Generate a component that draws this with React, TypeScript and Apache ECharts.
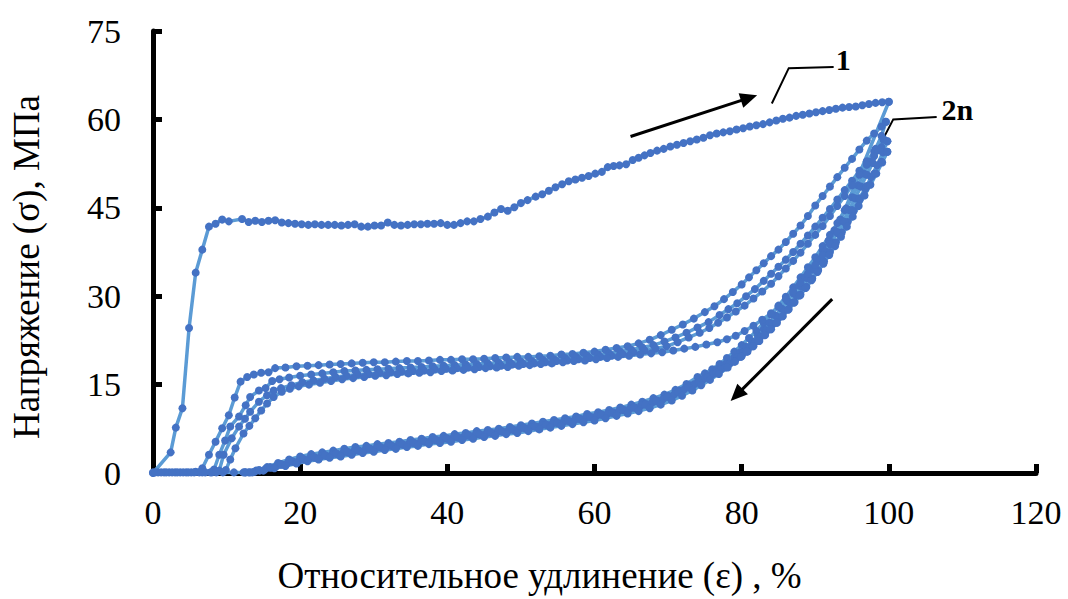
import React, { useEffect, useRef } from "react";
import * as echarts from "echarts";

// Axis settings
const X_MIN = 0, X_MAX = 120, X_STEP = 20;
const Y_MIN = 0, Y_MAX = 75, Y_STEP = 15;
const X_TITLE = "Относительное удлинение (ε) , %";
const Y_TITLE = "Напряжение (σ), МПа";

// Curve 1: first loading [strain %, stress MPa]
const loading1: number[][] = [
  [0,0],[2.4,3.5],[3.1,7.7],[4.0,11.0],[4.9,24.6],[5.8,34.0],[6.7,37.9],[7.6,41.8],[8.5,42.3],[9.4,43.0],
  [10.3,42.7],[12.1,43.1],[13.0,42.6],[13.9,42.8],[14.8,42.6],[15.7,42.8],[16.6,42.9],[17.5,42.5],[18.4,42.4],
  [19.3,42.3],[20.2,42.2],[21.1,42.1],[22.0,42.2],[22.9,42.1],[23.8,42.1],[24.7,42.1],[25.6,42.0],[26.5,42.1],
  [27.4,42.2],[28.3,41.8],[29.2,41.8],[30.1,42.0],[31.0,42.0],[31.9,42.5],[32.8,42.1],[33.7,42.0],[34.6,42.1],
  [35.5,42.2],[36.4,42.2],[37.3,42.3],[38.2,42.3],[39.1,42.4],[40.0,42.1],[40.9,42.1],[41.8,42.4],[42.7,42.7],
  [43.6,42.7],[44.5,43.1],[45.5,43.5],[46.4,44.2],[47.3,44.8],[48.2,44.5],[49.1,45.1],[50.0,45.8],[50.9,46.3],
  [52.0,46.9],[52.9,47.3],[53.8,47.9],[54.7,48.5],[55.6,49.0],[56.5,49.5],[57.4,49.8],[58.3,50.1],[59.2,50.4],
  [60.1,50.8],[61.0,51.1],[61.8,51.9],[62.6,52.1],[63.4,52.2],[64.3,52.4],[65.2,53.1],[66.0,53.5],[66.8,53.9],
  [67.6,54.3],[68.5,54.7],[69.4,55.0],[70.3,55.4],[71.2,55.7],[72.1,56.0],[73.0,56.3],[73.9,56.6],[74.8,56.9],
  [75.7,57.3],[76.6,57.6],[77.5,57.8],[78.4,58.0],[79.3,58.3],[80.2,58.5],[81.1,58.8],[82.0,59.0],[82.9,59.2],
  [83.8,59.5],[84.7,59.8],[85.6,60.1],[86.5,60.3],[87.4,60.6],[88.3,60.8],[89.2,61.0],[90.1,61.2],[91.0,61.4],
  [91.9,61.6],[92.8,61.8],[93.7,62.0],[94.6,62.1],[95.5,62.2],[96.4,62.4],[97.3,62.6],[98.2,62.8],[99.1,62.9],
  [100,63.0]
];

// Curve 1: first unloading
const unloading1: number[][] = [
  [100,63.0],[94.0,44.6],[93.0,42.4],[92.0,40.4],[91.0,38.5],[90.0,36.6],[89.0,34.9],[88.0,33.2],[87.0,31.5],
  [86.0,29.9],[85.0,28.4],[84.0,26.9],[83.0,25.5],[82.0,24.1],[81.0,22.9],[80.0,21.7],[79.0,20.6],[78.0,19.5],
  [77.0,18.5],[76.0,17.6],[75.0,16.9],[74.0,16.3],[72.5,15.1],[71.0,14.1],[69.5,13.3],[68.0,12.7],[66.5,12.1],
  [65.0,11.6],[63.5,11.1],[62.0,10.7],[60.5,10.3],[59.0,10.0],[57.5,9.6],[56.0,9.3],[54.5,9.0],[53.0,8.7],
  [51.5,8.4],[50.0,8.1],[48.5,7.8],[47.0,7.5],[45.5,7.3],[44.0,7.1],[42.5,6.8],[41.0,6.6],[39.5,6.3],[38.0,6.1],
  [36.5,5.8],[35.0,5.6],[33.5,5.3],[32.0,5.1],[30.5,4.9],[29.0,4.6],[27.5,4.4],[26.0,4.1],[24.5,3.8],[23.0,3.5],
  [21.5,3.2],[20.0,2.8],[18.5,2.3],[17.0,1.7],[15.5,1.0],[14.0,0.4],[12.5,0.1],[11.0,0.1],[9.5,0.1],[8.0,0.1]
];

// Cycle 2 loading
const loading2: number[][] = [
  [0,0.1],[1.5,0.1],[3,0.1],[4.5,0.1],[5.8,0.2],[6.7,0.8],[7.6,3.1],[8.5,5.3],[9.4,7.6],[10.3,9.8],[11.1,12.8],
  [11.9,15.5],[12.8,16.3],[13.7,16.7],[14.7,17.0],[15.7,17.1],[16.6,17.8],[18.0,17.9],[19.5,18.1],[21.0,18.2],
  [22.5,18.3],[24.0,18.4],[25.5,18.5],[27.0,18.6],[28.5,18.7],[30.0,18.8],[31.5,18.8],[33.0,18.9],[34.5,19.0],
  [36.0,19.0],[37.5,19.1],[39.0,19.2],[40.5,19.2],[42.0,19.3],[43.5,19.3],[45.0,19.4],[46.5,19.5],[48.0,19.6],
  [49.5,19.7],[51.0,19.7],[52.5,19.8],[54.0,19.9],[55.5,20.1],[57.0,20.2],[58.5,20.4],[60.0,20.6],[61.5,20.9],
  [63.0,21.2],[64.5,21.5],[66.0,22.0],[67.5,22.6],[69.0,23.4],[70.5,24.3],[72.0,25.2],[73.5,26.2],[75.0,27.3],
  [76.3,28.3],[77.6,29.5],[78.8,30.7],[80.0,32.0],[81.0,33.2],[82.0,34.4],[83.0,35.6],[84.0,36.8],[85.0,37.9],
  [86.0,39.2],[87.0,40.6],[88.0,42.0],[89.0,43.6],[90.0,45.4],[91.0,47.0],[92.0,48.6],[93.0,50.2],[94.0,51.8],
  [95.0,53.3],[96.0,54.9],[97.0,56.4],[98.0,57.6],[99.0,58.8],[99.6,59.6]
];

// Cycle 2 unloading
const unloading2: number[][] = [
  [99.6,59.6],[99.0,57.2],[98.2,55.0],[97.4,52.8],[96.6,50.8],[95.8,48.8],[95.0,46.8],[94.2,44.9],[93.4,43.0],
  [92.6,41.2],[91.8,39.4],[91.0,37.8],[90.2,36.2],[89.4,34.7],[88.6,33.2],[87.8,31.8],[87.0,30.5],[86.2,29.2],
  [85.4,27.9],[84.6,26.7],[83.8,25.5],[83.0,24.4],[82.2,23.3],[81.4,22.3],[80.6,21.4],[79.8,20.5],[79.0,19.6],
  [77.8,18.5],[76.6,17.5],[75.4,16.6],[74.2,15.7],[73.0,14.9],[71.5,14.0],[70.0,13.1],[68.5,12.3],[67.0,11.7],
  [65.5,11.1],[64.0,10.7],[62.5,10.3],[61.0,9.9],[59.5,9.5],[58.0,9.2],[56.5,8.8],[55.0,8.5],[53.5,8.2],
  [52.0,7.9],[50.5,7.6],[49.0,7.3],[47.5,7.0],[46.0,6.8],[44.5,6.5],[43.0,6.3],[41.5,6.0],[40.0,5.8],[38.5,5.6],
  [37.0,5.3],[35.5,5.1],[34.0,4.8],[32.5,4.6],[31.0,4.3],[29.5,4.1],[28.0,3.8],[26.5,3.5],[25.0,3.2],[23.5,2.9],
  [22.0,2.6],[20.5,2.3],[19.0,1.9],[17.5,1.4],[16.0,0.9],[14.5,0.4],[13.0,0.1]
];

// Cycle 3 loading
const loading3: number[][] = [
  [0.7,0.1],[2.2,0.1],[3.7,0.1],[5.2,0.1],[6.7,0.1],[8.3,0.6],[9.0,3.1],[9.8,5.5],[10.5,7.9],[11.7,9.6],
  [12.6,11.5],[13.2,12.9],[14.4,14.0],[15.3,14.4],[16.2,15.6],[17.2,15.9],[18.5,16.2],[20.0,16.5],[21.5,16.7],
  [23.0,16.9],[24.5,17.1],[26.0,17.3],[27.5,17.4],[29.0,17.5],[30.5,17.6],[32.0,17.7],[33.5,17.8],[35.0,17.9],
  [36.5,18.0],[38.0,18.1],[39.5,18.2],[41.0,18.3],[42.5,18.4],[44.0,18.5],[45.5,18.6],[47.0,18.7],[48.5,18.8],
  [50.0,18.9],[51.5,19.0],[53.0,19.2],[54.5,19.3],[56.0,19.5],[57.5,19.7],[59.0,19.9],[60.5,20.1],[62.0,20.3],
  [63.5,20.6],[65.0,20.9],[66.5,21.3],[68.0,21.7],[69.5,22.3],[71.0,23.0],[72.5,23.8],[74.0,24.7],[75.5,25.6],
  [77.0,26.8],[78.2,27.8],[79.4,28.8],[80.6,30.0],[81.8,31.2],[83.0,32.6],[84.0,33.8],[85.0,35.0],[86.0,36.2],
  [87.0,37.5],[88.0,38.9],[89.0,40.3],[90.0,41.8],[91.0,43.3],[92.0,44.8],[93.0,46.4],[94.0,48.0],[95.0,49.6],
  [96.0,51.3],[97.0,52.9],[98.0,54.5],[99.3,56.6]
];

// Cycle 3 unloading
const unloading3: number[][] = [
  [99.3,56.6],[98.6,54.8],[97.8,52.6],[97.0,50.6],[96.2,48.6],[95.4,46.6],[94.6,44.6],[93.8,42.7],[93.0,40.9],
  [92.2,39.2],[91.4,37.6],[90.6,36.0],[89.8,34.5],[89.0,33.0],[88.2,31.6],[87.4,30.2],[86.6,28.9],[85.8,27.6],
  [85.0,26.4],[84.2,25.3],[83.4,24.2],[82.6,23.2],[81.8,22.2],[81.0,21.3],[80.2,20.4],[79.4,19.6],[78.4,18.6],
  [77.2,17.6],[76.0,16.7],[74.8,15.9],[73.6,15.1],[72.2,14.2],[70.8,13.3],[69.3,12.5],[67.8,11.9],[66.3,11.4],
  [64.8,10.9],[63.3,10.5],[61.8,10.1],[60.3,9.7],[58.8,9.4],[57.3,9.0],[55.8,8.7],[54.3,8.4],[52.8,8.1],
  [51.3,7.8],[49.8,7.5],[48.3,7.2],[46.8,7.0],[45.3,6.7],[43.8,6.5],[42.3,6.2],[40.8,6.0],[39.3,5.7],[37.8,5.5],
  [36.3,5.2],[34.8,5.0],[33.3,4.7],[31.8,4.5],[30.3,4.2],[28.8,3.9],[27.3,3.7],[25.8,3.4],[24.3,3.1],[22.8,2.8],
  [21.3,2.5],[19.8,2.1],[18.3,1.7],[16.8,1.2],[15.3,0.7],[13.8,0.2],[12.6,0.1]
];

// Cycle 4 loading
const loading4: number[][] = [
  [0.3,0.1],[1.8,0.1],[3.3,0.1],[4.8,0.1],[6.3,0.1],[7.8,0.1],[9.0,0.4],[9.6,3.1],[10.7,5.9],[11.7,7.9],
  [12.5,9.2],[13.2,10.4],[14.4,12.1],[15.5,13.2],[16.4,14.0],[17.4,14.4],[18.8,14.9],[20.3,15.4],[21.8,15.7],
  [23.3,16.0],[24.8,16.3],[26.3,16.5],[27.8,16.7],[29.3,16.8],[30.8,17.0],[32.3,17.1],[33.8,17.2],[35.3,17.3],
  [36.8,17.4],[38.3,17.6],[39.8,17.7],[41.3,17.8],[42.8,17.9],[44.3,18.0],[45.8,18.1],[47.3,18.2],[48.8,18.4],
  [50.3,18.5],[51.8,18.6],[53.3,18.8],[54.8,19.0],[56.3,19.1],[57.8,19.3],[59.3,19.5],[60.8,19.7],[62.3,19.9],
  [63.8,20.2],[65.3,20.5],[66.8,20.8],[68.3,21.1],[69.8,21.5],[71.3,22.2],[72.8,23.0],[74.3,23.8],[75.6,24.6],
  [76.8,25.5],[78.0,26.4],[79.2,27.4],[80.4,28.4],[81.6,29.6],[82.8,30.8],[84.0,32.1],[85.0,33.4],[86.0,34.7],
  [87.0,36.0],[88.0,37.4],[89.0,38.9],[90.0,40.4],[91.0,41.9],[92.0,43.6],[93.0,45.3],[94.0,47.0],[95.0,48.8],
  [96.0,50.6],[97.0,52.3],[98.0,53.8],[99.0,55.3],[99.8,56.3]
];

// Cycle 4 unloading
const unloading4: number[][] = [
  [99.8,56.3],[99.2,54.4],[98.4,52.2],[97.6,50.2],[96.8,48.2],[96.0,46.3],[95.2,44.4],[94.4,42.6],[93.6,40.8],
  [92.8,39.1],[92.0,37.5],[91.2,35.9],[90.4,34.4],[89.6,33.0],[88.8,31.6],[88.0,30.3],[87.2,29.0],[86.4,27.8],
  [85.6,26.6],[84.8,25.5],[84.0,24.4],[83.2,23.4],[82.4,22.4],[81.6,21.5],[80.8,20.6],[80.0,19.8],[79.0,18.9],
  [77.8,17.9],[76.6,17.0],[75.4,16.2],[74.2,15.4],[72.8,14.5],[71.4,13.7],[69.9,12.9],[68.4,12.2],[66.9,11.6],
  [65.4,11.1],[63.9,10.7],[62.4,10.2],[60.9,9.9],[59.4,9.5],[57.9,9.2],[56.4,8.9],[54.9,8.5],[53.4,8.2],
  [51.9,7.9],[50.4,7.7],[48.9,7.4],[47.4,7.1],[45.9,6.9],[44.4,6.6],[42.9,6.4],[41.4,6.1],[39.9,5.9],[38.4,5.6],
  [36.9,5.4],[35.4,5.1],[33.9,4.9],[32.4,4.6],[30.9,4.4],[29.4,4.1],[27.9,3.8],[26.4,3.6],[24.9,3.3],[23.4,3.0],
  [21.9,2.7],[20.4,2.4],[18.9,2.0],[17.4,1.5],[15.9,1.0],[14.4,0.5],[13.2,0.1]
];

// Cycle 5 loading
const loading5: number[][] = [
  [1.1,0.1],[2.6,0.1],[4.1,0.1],[5.6,0.1],[7.1,0.1],[8.6,0.1],[9.9,0.5],[10.5,2.3],[11.2,4.2],[12.3,6.7],
  [13.1,8.0],[13.9,9.3],[14.7,10.6],[15.5,11.8],[16.4,12.9],[17.5,13.8],[18.6,14.3],[19.8,14.7],[21.2,15.0],
  [22.7,15.3],[24.2,15.6],[25.7,15.9],[27.2,16.1],[28.7,16.3],[30.2,16.5],[31.7,16.6],[33.2,16.8],[34.7,16.9],
  [36.2,17.0],[37.7,17.1],[39.2,17.3],[40.7,17.4],[42.2,17.5],[43.7,17.6],[45.2,17.8],[46.7,17.9],[48.2,18.0],
  [49.7,18.2],[51.2,18.3],[52.7,18.5],[54.2,18.6],[55.7,18.8],[57.2,19.0],[58.7,19.1],[60.2,19.3],[61.7,19.5],
  [63.2,19.7],[64.7,19.9],[66.2,20.1],[67.7,20.3],[69.2,20.5],[70.7,20.8],[72.2,21.1],[73.7,21.4],[75.2,21.8],
  [76.7,22.2],[78.0,22.7],[79.2,23.3],[80.4,24.1],[81.6,25.0],[82.8,26.0],[84.0,27.1],[85.0,28.2],[86.0,29.5],
  [87.0,30.9],[88.0,32.3],[89.0,33.8],[90.0,35.3],[91.0,37.0],[92.0,38.8],[93.0,40.7],[94.0,42.6],[95.0,44.6],
  [96.0,46.6],[97.0,48.7],[98.0,50.8],[99.0,52.8],[99.8,54.5]
];

// Cycle 5 unloading
const unloading5: number[][] = [
  [99.8,54.5],[99.1,52.7],[98.3,50.8],[97.5,48.9],[96.7,47.1],[95.9,45.3],[95.1,43.5],[94.3,41.8],[93.5,40.1],
  [92.7,38.5],[91.9,37.0],[91.1,35.5],[90.3,34.1],[89.5,32.7],[88.7,31.4],[87.9,30.1],[87.1,28.9],[86.3,27.7],
  [85.5,26.6],[84.7,25.5],[83.9,24.4],[83.1,23.4],[82.3,22.4],[81.5,21.5],[80.7,20.6],[79.9,19.7],[79.1,18.9],
  [78.1,17.9],[76.9,16.8],[75.7,15.8],[74.5,14.9],[73.3,14.0],[71.9,13.1],[70.5,12.3],[69.0,11.6],[67.5,11.0],
  [66.0,10.5],[64.5,10.1],[63.0,9.7],[61.5,9.3],[60.0,8.9],[58.5,8.6],[57.0,8.3],[55.5,8.0],[54.0,7.7],
  [52.5,7.4],[51.0,7.1],[49.5,6.8],[48.0,6.6],[46.5,6.3],[45.0,6.1],[43.5,5.8],[42.0,5.6],[40.5,5.3],[39.0,5.1],
  [37.5,4.9],[36.0,4.6],[34.5,4.4],[33.0,4.1],[31.5,3.9],[30.0,3.6],[28.5,3.4],[27.0,3.1],[25.5,2.8],[24.0,2.6],
  [22.5,2.3],[21.0,2.0],[19.5,1.6],[18.0,1.2],[16.5,0.8],[15.0,0.4],[13.5,0.1],[12.3,0.1]
];

// Annotations (data coordinates)
const arrowUp: number[][] = [[64.9, 57.1], [82.1, 64.1]];
const arrowDown: number[][] = [[92.3, 29.5], [78.5, 12.2]];
const leader1: number[][] = [[84.1, 62.7], [86.4, 68.7], [92.5, 68.9]];
const leader2: number[][] = [[98.1, 54.0], [100.6, 60.0], [106.5, 60.4]];
const label1 = { text: "1", at: [93.8, 70.1] };
const label2 = { text: "2n", at: [109.3, 61.6] };

const FONT = '"Liberation Serif", "Times New Roman", serif';

export default function App() {
  const ref = useRef<HTMLDivElement>(null);

  useEffect(() => {
    const chart = echarts.init(ref.current!, null, { renderer: "svg" });

    const mk = (name: string, data: number[][]) => ({
      type: "line",
      name,
      data,
      symbol: "circle",
      symbolSize: 8,
      showSymbol: true,
      showAllSymbol: true,
      itemStyle: { color: "#4472C4" },
      lineStyle: { color: "#5B9BD5", width: 3.5 },
      emphasis: { disabled: true },
      silent: true,
      animation: false,
    });

    const axisCommon = {
      axisLine: { show: true, lineStyle: { color: "#000", width: 5 } },
      axisTick: { show: true, inside: true, length: 9, lineStyle: { color: "#000", width: 5 } },
      splitLine: { show: false },
    };

    chart.setOption({
      animation: false,
      backgroundColor: "#fff",
      grid: { left: 152, right: 32, top: 31, bottom: 126, containLabel: false },
      xAxis: {
        type: "value",
        min: X_MIN,
        max: X_MAX,
        interval: X_STEP,
        name: X_TITLE,
        nameLocation: "middle",
        nameGap: 84,
        nameTextStyle: {
          color: "#000", fontSize: 37, fontFamily: FONT, padding: [0, 110, 0, 0],
        },
        axisLabel: { color: "#000", fontSize: 34, fontFamily: FONT, margin: 22 },
        ...axisCommon,
      },
      yAxis: {
        type: "value",
        min: Y_MIN,
        max: Y_MAX,
        interval: Y_STEP,
        name: Y_TITLE,
        nameLocation: "middle",
        nameGap: 108,
        nameTextStyle: {
          color: "#000", fontSize: 37, fontFamily: FONT, padding: [0, 30, 0, 0],
        },
        axisLabel: { color: "#000", fontSize: 34, fontFamily: FONT, margin: 32 },
        ...axisCommon,
      },
      series: [
        mk("1", loading1),
        mk("1u", unloading1),
        mk("2", loading2),
        mk("2u", unloading2),
        mk("3", loading3),
        mk("3u", unloading3),
        mk("4", loading4),
        mk("4u", unloading4),
        mk("5", loading5),
        mk("5u", unloading5),
      ],
    });

    const px = (p: number[]) => chart.convertToPixel({ gridIndex: 0 }, p) as number[];

    const arrow = (pts: number[][]) => {
      const a = px(pts[0]);
      const b = px(pts[1]);
      const dx = b[0] - a[0], dy = b[1] - a[1];
      const len = Math.hypot(dx, dy);
      const ux = dx / len, uy = dy / len;
      const nx = -uy, ny = ux;
      const L = 17, W = 7.5;
      const base = [b[0] - L * ux, b[1] - L * uy];
      return [
        {
          type: "line",
          shape: { x1: a[0], y1: a[1], x2: base[0] + 3 * ux, y2: base[1] + 3 * uy },
          style: { stroke: "#000", lineWidth: 3 },
          silent: true,
        },
        {
          type: "polygon",
          shape: {
            points: [
              [b[0], b[1]],
              [base[0] + W * nx, base[1] + W * ny],
              [base[0] - W * nx, base[1] - W * ny],
            ],
          },
          style: { fill: "#000" },
          silent: true,
        },
      ];
    };

    const leader = (pts: number[][]) => ({
      type: "polyline",
      shape: { points: pts.map(px) },
      style: { stroke: "#000", lineWidth: 2, fill: null },
      silent: true,
    });

    const label = (l: { text: string; at: number[] }) => {
      const p = px(l.at);
      return {
        type: "text",
        x: p[0],
        y: p[1],
        style: {
          text: l.text,
          font: `bold 30px ${FONT}`,
          fill: "#000",
          align: "center",
          verticalAlign: "middle",
        },
        silent: true,
      };
    };

    chart.setOption({
      graphic: [
        ...arrow(arrowUp),
        ...arrow(arrowDown),
        leader(leader1),
        leader(leader2),
        label(label1),
        label(label2),
      ],
    });

    return () => chart.dispose();
  }, []);

  return (
    <div
      ref={ref}
      style={{ position: "absolute", left: 0, top: 0, width: 1068, height: 599 }}
    />
  );
}
